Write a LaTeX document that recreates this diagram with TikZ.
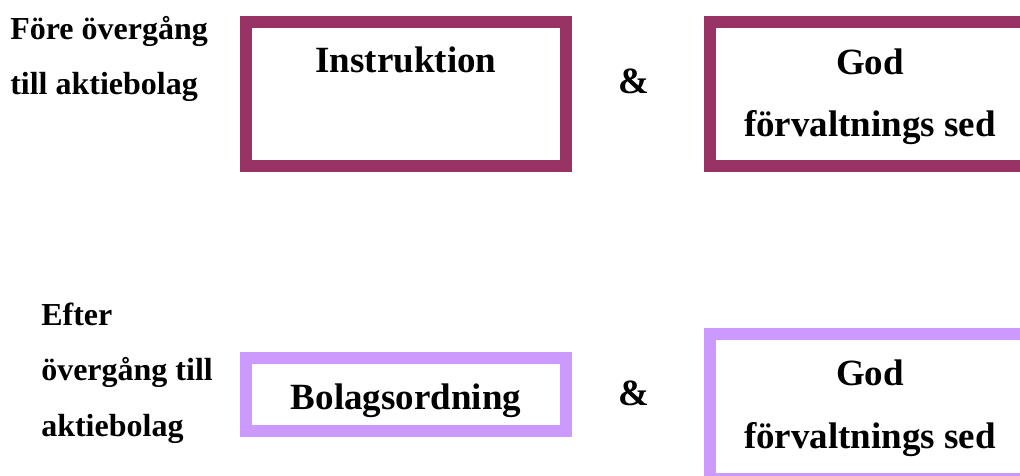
\documentclass[tikz,border=0pt]{standalone}
\usepackage{fontspec}
\setmainfont{Liberation Serif}
\definecolor{darkplum}{HTML}{993366}
\definecolor{lilac}{HTML}{CC99FF}
\begin{document}
\begin{tikzpicture}[x=0.75pt,y=-0.75pt,
  framebox/.style={draw=#1, line width=9pt, fill=white, inner sep=0pt, minimum width=240pt},
  boxtext/.style={anchor=base, inner sep=0pt, font=\fontsize{27.75}{33}\selectfont\bfseries},
  sidetext/.style={anchor=base west, inner sep=0pt, font=\fontsize{24}{29}\selectfont\bfseries}]
\useasboundingbox (0,0) rectangle (1020,475);
\clip (0,0) rectangle (1020,475);
% frames
\node[framebox=darkplum, minimum height=108pt] (instr) at (406,94) {};
\node[framebox=darkplum, minimum height=108pt] (god1) at (870,94) {};
\node[framebox=lilac, minimum height=54.75pt] (bolag) at (406,394.5) {};
\node[framebox=lilac, minimum height=108.75pt] (god2) at (870,406.5) {};
% side labels
\node[sidetext] (fore1) at (10,39) {Före övergång};
\node[sidetext] (fore2) at (10,94) {till aktiebolag};
\node[sidetext] (eft1) at (41,325.7) {Efter};
\node[sidetext] (eft2) at (41,380.7) {övergång till};
\node[sidetext] (eft3) at (41,436.7) {aktiebolag};
% box texts
\node[boxtext] (tinstr) at (406,72.7) {Instruktion};
\node[boxtext] (tgod1a) at (870,74) {God};
\node[boxtext] (tgod1b) at (870,136.7) {förvaltnings sed};
\node[boxtext] (tbolag) at (406,409.3) {Bolagsordning};
\node[boxtext] (tgod2a) at (870,385) {God};
\node[boxtext] (tgod2b) at (870,448.3) {förvaltnings sed};
% ampersands
\node[boxtext] (amp1) at (634,93.3) {\&};
\node[boxtext] (amp2) at (634,405) {\&};
\end{tikzpicture}
\end{document}
